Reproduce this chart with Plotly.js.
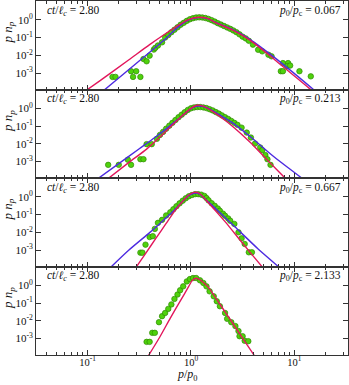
<!DOCTYPE html>
<html>
<head>
<meta charset="utf-8">
<script src="https://cdn.plot.ly/plotly-3.0.1.min.js"></script>
<style>body{margin:0;background:#fff}#plot{width:349px;height:385px}</style>
</head>
<body>
<div id="plot"></div>
<script>
// labels
const ctLabel = "2.80";
const ratioLabels = ["0.067", "0.213", "0.667", "2.133"];

// panel 1 (p0/pc = 0.067)
const green1P = [0.174,0.186,0.263,0.295,0.275,0.324,0.347,0.372,0.398,0.437,0.452,0.479,0.525,
  0.562,0.603,0.646,0.692,0.741,0.794,0.851,0.912,0.977,1.047,1.122,1.202,1.288,1.380,1.479,1.585,
  1.698,1.820,1.950,2.089,2.239,2.399,2.570,2.754,2.951,3.162,3.388,3.631,3.981,4.467,4.898,5.623,
  6.026,7.413,7.762,7.762,8.710,8.511,9.120,11.22,14.45];
const green1N = [6.03e-4,6.03e-4,1.26e-3,1.26e-3,6.03e-4,6.03e-4,6.17e-3,4.57e-3,9.55e-3,0.0209,0.0263,0.0355,0.0537,
  0.100,0.138,0.200,0.275,0.380,0.525,0.676,0.871,1.072,1.230,1.349,1.380,1.349,1.259,1.122,0.955,
  0.794,0.646,0.537,0.447,0.372,0.309,0.251,0.200,0.151,0.112,0.0891,0.0661,0.0398,0.0204,0.0166,0.0107,
  8.71e-3,1.26e-3,1.26e-3,3.63e-3,3.63e-3,2.40e-3,2.63e-3,1.26e-3,6.46e-4];
const red1P = [0.0891,0.132,0.251,0.398,0.575,0.759,0.933,1.175,1.445,1.778,2.570,3.715,6.457,13.80,15.85];
const red1N = [7.41e-5,3.72e-4,5.62e-3,0.0398,0.174,0.501,1.0,1.380,1.202,0.646,0.251,0.0708,5.62e-3,1.45e-4,7.59e-5];
const blue1P = [0.138,0.251,0.398,0.537,0.661,0.794,0.955,1.175,1.445,1.778,2.570,3.715,6.457,15.14,16.60];
const blue1N = [8.71e-5,1.58e-3,0.0148,0.0631,0.200,0.501,1.0,1.318,1.175,0.661,0.269,0.0794,7.41e-3,1.26e-4,7.94e-5];

// panel 2 (p0/pc = 0.213)
const green2P = [0.158,0.200,0.245,0.263,0.324,0.347,0.372,0.417,0.468,
  0.501,0.537,0.575,0.617,0.661,0.708,0.759,0.813,0.871,0.933,
  1.0,1.072,1.148,1.230,1.318,1.413,1.514,1.622,1.738,1.862,
  1.995,2.138,2.291,2.455,2.630,2.818,3.090,3.467,3.802,4.169,
  4.677,4.898,5.248,5.495,5.888];
const green2N = [6.46e-4,6.46e-4,1.26e-3,6.46e-4,1.35e-3,1.35e-3,9.55e-3,9.55e-3,0.0191,
  0.0316,0.0468,0.0708,0.105,0.151,0.219,0.316,0.437,0.603,0.813,
  1.0,1.122,1.175,1.175,1.122,1.023,0.891,0.759,0.617,0.501,
  0.398,0.316,0.251,0.195,0.151,0.117,0.0813,0.0427,0.0224,0.0102,
  6.17e-3,4.37e-3,2.29e-3,1.35e-3,6.46e-4];
const red2P = [0.151,0.251,0.372,0.501,0.631,0.794,1.0,1.135,1.288,1.549,1.995,2.570,3.715,5.623,8.128,8.710];
const red2N = [8.91e-5,8.91e-4,5.01e-3,0.0240,0.0891,0.316,1.0,1.479,1.380,0.794,0.282,0.0891,0.0126,1.05e-3,1.17e-4,7.94e-5];
const blue2P = [0.120,0.200,0.316,0.447,0.631,0.794,1.0,1.148,1.318,1.585,1.995,2.570,3.715,6.310,11.75,12.59];
const blue2N = [8.91e-5,7.59e-4,5.25e-3,0.0224,0.105,0.316,0.955,1.318,1.259,0.794,0.355,0.141,0.0263,1.91e-3,1.17e-4,8.32e-5];

// panel 3 (p0/pc = 0.667)
const green3P = [0.324,0.339,0.363,0.398,0.427,0.447,0.479,0.525,0.575,0.631,
  0.676,0.724,0.776,0.832,0.891,0.955,1.023,1.096,1.175,1.259,
  1.349,1.413,1.479,1.585,1.698,1.820,1.905,2.042,2.138,2.291,
  2.399,2.630,2.884,3.090,3.311,3.631,3.890];
const green3N = [7.08e-4,7.08e-4,2.00e-3,5.37e-3,6.03e-3,0.0155,0.0339,0.0501,0.0891,0.135,
  0.200,0.295,0.427,0.603,0.832,1.072,1.259,1.413,1.413,1.318,
  1.122,0.851,0.631,0.437,0.309,0.219,0.162,0.112,0.0851,0.0603,
  0.0447,0.0295,0.0100,4.57e-3,2.19e-3,7.41e-4,7.41e-4];
const red3P = [0.288,0.363,0.457,0.575,0.692,0.832,0.955,1.072,1.202,1.479,2.138,3.090,4.898,5.248];
const red3N = [8.91e-5,6.31e-4,4.47e-3,0.0316,0.151,0.562,1.259,1.778,1.585,0.447,0.0398,2.82e-3,1.12e-4,7.08e-5];
const blue3P = [0.162,0.251,0.398,0.501,0.676,0.832,0.955,1.072,1.202,1.479,1.995,2.692,4.467,7.079,7.586];
const blue3N = [8.91e-5,1.0e-3,9.55e-3,0.0316,0.158,0.562,1.202,1.585,1.445,0.501,0.1,0.0191,1.15e-3,1.12e-4,7.94e-5];

// panel 4 (p0/pc = 2.133)
const green4P = [0.372,0.398,0.422,0.447,0.490,0.525,0.562,0.603,0.646,0.692,
  0.741,0.785,0.841,0.912,0.977,1.047,1.122,1.222,1.318,1.413,
  1.514,1.660,1.778,1.905,2.138,2.239,2.455,2.692,2.884,2.951,
  3.162,3.311,3.589];
const green4N = [6.46e-4,6.46e-4,2.09e-3,2.09e-3,8.32e-3,0.0182,0.0275,0.0468,0.0832,0.170,
  0.302,0.525,0.871,1.660,2.239,2.570,2.570,1.905,1.349,0.871,
  0.457,0.240,0.126,0.0661,0.0275,0.0129,8.32e-3,5.01e-3,2.63e-3,1.35e-3,
  1.35e-3,7.41e-4,7.08e-4];
const red4P = [0.380,0.501,0.631,0.794,0.933,1.023,1.109,1.202,1.318,1.469,2.138,3.090,4.074,4.266];
const red4N = [8.91e-5,1.26e-3,0.0141,0.141,0.708,1.778,2.512,2.188,1.445,0.794,0.0316,1.29e-3,1.17e-4,7.94e-5];

// tick labels
const xTickVals = [0.1, 1, 10];
const xTickText = ["10<sup>-1</sup>", "10<sup>0</sup>", "10<sup>1</sup>"];
const yTickVals = [1e-3, 1e-2, 1e-1, 1];
const yTickText = ["10<sup>-3</sup>", "10<sup>-2</sup>", "10<sup>-1</sup>", "10<sup>0</sup>"];
const xMinor = [0.04,0.05,0.06,0.07,0.08,0.09,0.2,0.3,0.4,0.5,0.6,0.7,0.8,0.9,2,3,4,5,6,7,8,9,20,30];

const RED = "#e2175c";
const BLUE = "#4d2be0";
const FONT = "Liberation Serif, DejaVu Serif, serif";

let panels = [
  {gp: green1P, gn: green1N, rp: red1P, rn: red1N, bp: blue1P, bn: blue1N},
  {gp: green2P, gn: green2N, rp: red2P, rn: red2N, bp: blue2P, bn: blue2N},
  {gp: green3P, gn: green3N, rp: red3P, rn: red3N, bp: blue3P, bn: blue3N},
  {gp: green4P, gn: green4N, rp: red4P, rn: red4N, bp: null, bn: null},
];

let data = [];
let layout = {
  width: 349,
  height: 385,
  margin: {l: 36, r: 1, t: 1, b: 30},
  paper_bgcolor: "white",
  plot_bgcolor: "white",
  showlegend: false,
  font: {family: FONT, size: 11, color: "#111"},
  annotations: [],
};

panels.forEach((p, i) => {
  let n = i + 1;
  let xa = "x" + n, ya = "y" + n;
  data.push({
    x: p.gp, y: p.gn, xaxis: xa, yaxis: ya,
    mode: "markers", type: "scatter",
    marker: {size: 5.5, color: "#4fd20c", line: {color: "#2f8a05", width: 0.7}},
  });
  if (p.bp) {
    data.push({
      x: p.bp, y: p.bn, xaxis: xa, yaxis: ya,
      mode: "lines", type: "scatter",
      line: {color: BLUE, width: 1.4, shape: "spline", smoothing: 0.7},
    });
  }
  data.push({
    x: p.rp, y: p.rn, xaxis: xa, yaxis: ya,
    mode: "lines", type: "scatter",
    line: {color: RED, width: 1.4, shape: "spline", smoothing: 0.7},
  });

  let top = 1 - i / 4, bot = 1 - (i + 1) / 4;
  layout["xaxis" + (n === 1 ? "" : n)] = {
    type: "log", range: [-1.5, 1.52], domain: [0, 1], anchor: ya,
    matches: n === 1 ? undefined : "x",
    tickvals: xTickVals, ticktext: xTickText, showticklabels: n === 4,
    ticklabelstandoff: -3,
    ticks: "inside", ticklen: 5, tickcolor: "#333", mirror: "allticks",
    showline: true, linecolor: "#333", linewidth: 1, showgrid: false, zeroline: false,
    minor: {tickvals: xMinor, ticks: "inside", ticklen: 3, tickcolor: "#333", showgrid: false},
    tickfont: {family: FONT, size: 10.5},
  };
  layout["yaxis" + (n === 1 ? "" : n)] = {
    type: "log", range: [-3.93, 1.06], domain: [bot, top], anchor: xa,
    tickvals: yTickVals, ticktext: yTickText,
    ticks: "inside", ticklen: 5, tickcolor: "#333", mirror: "allticks",
    showline: true, linecolor: "#333", linewidth: 1, showgrid: false, zeroline: false,
    tickfont: {family: FONT, size: 11},
  };

  layout.annotations.push({
    xref: "paper", yref: "paper", x: 0.03, y: top - 0.002,
    xanchor: "left", yanchor: "top", showarrow: false,
    text: "<i>ct</i>/<i>ℓ</i><sub><i>c</i></sub> = " + ctLabel,
    font: {family: FONT, size: 11.5},
  });
  layout.annotations.push({
    xref: "paper", yref: "paper", x: 0.985, y: top - 0.002,
    xanchor: "right", yanchor: "top", showarrow: false,
    text: "<i>p</i><sub>0</sub>/<i>p</i><sub>c</sub> = " + ratioLabels[i],
    font: {family: FONT, size: 11.5},
  });
  layout.annotations.push({
    xref: "paper", yref: "paper", x: -0.088, y: top - 0.09,
    xanchor: "center", yanchor: "middle", showarrow: false, textangle: -90,
    text: "<i>p n</i><sub><i>p</i></sub>",
    font: {family: FONT, size: 13},
  });
});

layout.annotations.push({
  xref: "paper", yref: "paper", x: 0.487, y: -0.085,
  xanchor: "center", yanchor: "bottom", showarrow: false,
  text: "<i>p</i>/<i>p</i><sub>0</sub>",
  font: {family: FONT, size: 12},
});

Plotly.newPlot("plot", data, layout, {staticPlot: true, displayModeBar: false});
</script>
</body>
</html>
